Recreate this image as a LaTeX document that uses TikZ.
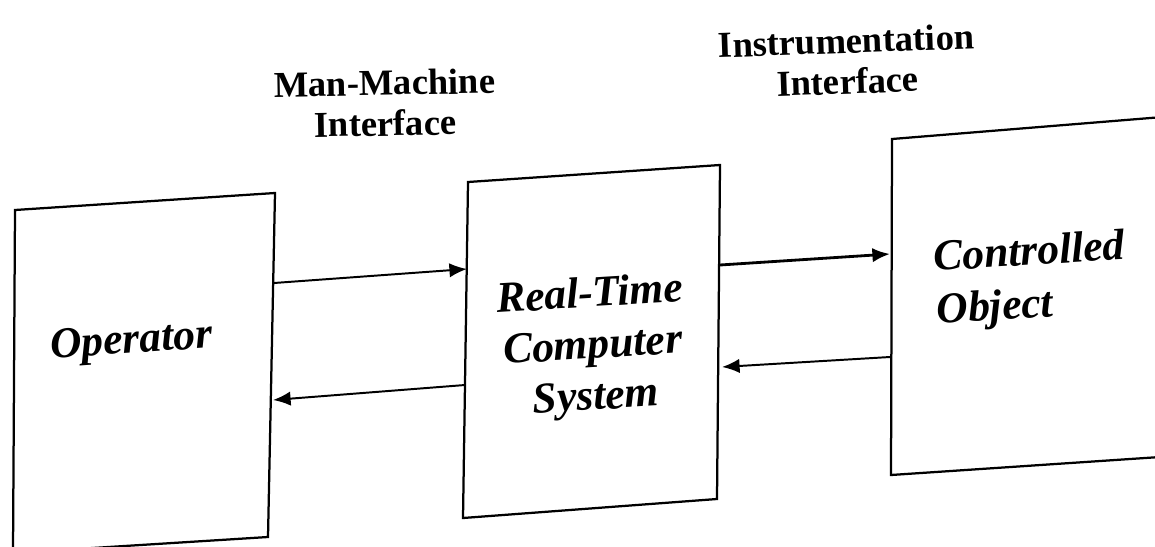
\documentclass[tikz,border=0pt]{standalone}
\usepackage{fontspec}
\setmainfont{Liberation Serif}
\usetikzlibrary{arrows.meta}
\begin{document}
\begin{tikzpicture}[x=0.025cm,y=-0.025cm,
  blockedge/.style={line width=1.6pt,line join=miter},
  flow/.style={line width=1.4pt,-{Latex[length=0.44cm,width=0.36cm]}},
  heavyflow/.style={flow,line width=2pt},
  blocktext/.style={font=\bfseries\itshape\fontsize{31}{36.5}\selectfont,inner sep=0pt,rotate=3.5},
  ifacetext/.style={font=\bfseries\fontsize{26}{29}\selectfont,inner sep=0pt,align=center}]
\useasboundingbox (0,0) rectangle (1155,546);

% corners of the three blocks
\coordinate (op-nw) at (15,210);  \coordinate (op-ne) at (275,193);
\coordinate (op-se) at (268,537); \coordinate (op-sw) at (13,553);
\coordinate (rt-nw) at (468,182); \coordinate (rt-ne) at (720,165);
\coordinate (rt-se) at (717,499); \coordinate (rt-sw) at (463,518);
\coordinate (co-nw) at (892,139); \coordinate (co-ne) at (1175,116);
\coordinate (co-se) at (1175,456); \coordinate (co-sw) at (891,475);

\draw[blockedge] (op-nw) -- (op-ne) -- (op-se) -- (op-sw) -- cycle;
\draw[blockedge] (rt-nw) -- (rt-ne) -- (rt-se) -- (rt-sw) -- cycle;
\draw[blockedge] (co-nw) -- (co-ne) -- (co-se) -- (co-sw) -- cycle;

% block labels
\node[blocktext,anchor=base,rotate=0.5] (op) at (132,353) {Operator};
\node[blocktext,align=center] (rt) at (593,348) {Real-Time\\Computer\\System};
\node[blocktext,align=left,font=\bfseries\itshape\fontsize{31}{37.5}\selectfont] (co) at (1031,281) {Controlled\\Object};

% interface labels
\node[ifacetext,rotate=1] (mmi) at (385,103) {Man-Machine\\Interface};
\node[ifacetext,rotate=2] (ii) at (847,61) {Instrumentation\\Interface};

% connection points on the block edges
\coordinate (op-out) at (274,283); \coordinate (rt-in)  at (467,269);
\coordinate (rt-ret) at (465,385); \coordinate (op-in)  at (273,400);
\coordinate (rt-out) at (720,265); \coordinate (co-in)  at (890,254);
\coordinate (co-ret) at (890,357); \coordinate (rt-back) at (722,367);

\draw[flow] (op-out) -- (rt-in);
\draw[flow] (rt-ret) -- (op-in);
\draw[heavyflow] (rt-out) -- (co-in);
\draw[flow] (co-ret) -- (rt-back);
\end{tikzpicture}
\end{document}
